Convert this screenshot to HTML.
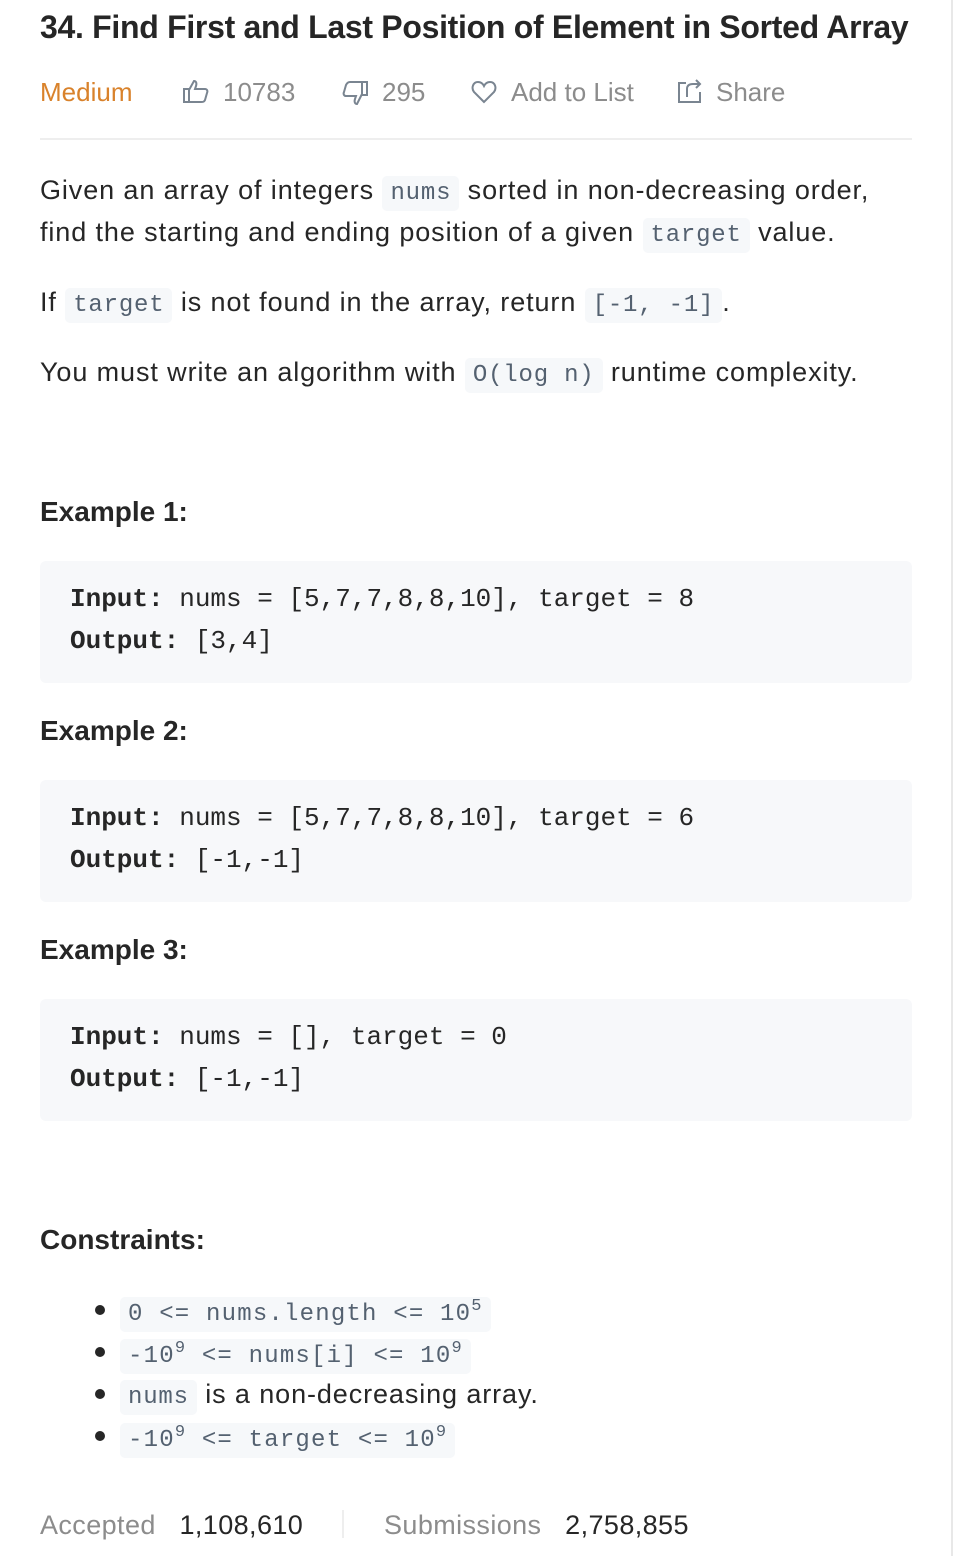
<!DOCTYPE html>
<html><head><meta charset="utf-8"><style>
body{margin:0;width:954px;height:1556px;background:#fff;position:relative;overflow:hidden;font-family:"Liberation Sans",sans-serif;color:#262626}
.a{position:absolute;white-space:nowrap}
.t{font-size:27px;line-height:32px;letter-spacing:0.9px}
code{font-family:"Liberation Mono",monospace;font-size:24px;background:#f6f8fa;color:#546170;padding:4px 8px;border-radius:5px;letter-spacing:0.8px}
.cc code{letter-spacing:1.2px}
.pre{position:absolute;left:40px;width:872px;background:#f7f8fa;border-radius:6px;font-family:"Liberation Mono",monospace;font-size:26px;line-height:42px;color:#262626;padding:17px 0 0 30px;box-sizing:border-box}
.pre b{font-weight:bold}
h{font-weight:bold;font-size:28px;letter-spacing:0}
sup{font-size:17px;vertical-align:10px;line-height:0}
.g{color:#8c8c8c}
.ic{color:#8c8c8c;font-size:26px}
.dot{position:absolute;left:95px;width:10px;height:10px;border-radius:5px;background:#262626}
</style></head><body>
<div style="position:absolute;left:951px;top:0;width:2px;height:1556px;background:#e8e8e8"></div>
<div class="a" style="left:40px;top:8px;font-size:32px;font-weight:bold;line-height:38px;letter-spacing:-0.3px">34. Find First and Last Position of Element in Sorted Array</div>
<div class="a" style="left:40px;top:76px;font-size:26px;color:#d9822b;line-height:32px">Medium</div>
<svg class="a" style="left:182px;top:79px" width="28" height="26" viewBox="0 0 28 26" fill="none" stroke="#7a8591" stroke-width="2"><rect x="2" y="10" width="5" height="13"/><path d="M7 11 L12 2 C14 2 15 4 14 7 L13 10 H23 C25 10 26 12 25 14 L23 21 C22 23 21 23 19 23 H7"/></svg>
<div class="a ic" style="left:223px;top:77px;line-height:30px">10783</div>
<svg class="a" style="left:341px;top:80px" width="28" height="26" viewBox="0 0 28 26" fill="none" stroke="#7a8591" stroke-width="2"><rect x="21" y="2" width="5" height="13"/><path d="M21 14 L16 24 C14 24 13 22 14 19 L15 16 H5 C3 16 2 14 3 12 L5 5 C6 3 7 2 9 2 H21"/></svg>
<div class="a ic" style="left:382px;top:77px;line-height:30px">295</div>
<svg class="a" style="left:471px;top:80px" width="26" height="24" viewBox="0 0 26 24" fill="none" stroke="#7a8591" stroke-width="2"><path d="M13 22 L3 12 C0 8 2 2 7 2 C10 2 12 4 13 6 C14 4 16 2 19 2 C24 2 26 8 23 12 Z"/></svg>
<div class="a ic" style="left:511px;top:77px;line-height:30px">Add to List</div>
<svg class="a" style="left:677px;top:79px" width="26" height="26" viewBox="0 0 26 26" fill="none" stroke="#7a8591" stroke-width="2"><path d="M9 4 H2 V23 H23 V13"/><path d="M10 18 V10 C10 6 13 5 16 5 H23 M19 1 L23 5 L19 9"/></svg>
<div class="a ic" style="left:716px;top:77px;line-height:30px">Share</div>
<div style="position:absolute;left:40px;top:138px;width:872px;height:2px;background:#eeeeee"></div>

<div class="a t" style="left:40px;top:174px">Given an array of integers <code>nums</code> sorted in non-decreasing order,</div>
<div class="a t" style="left:40px;top:216px">find the starting and ending position of a given <code>target</code> value.</div>
<div class="a t" style="left:40px;top:286px">If <code>target</code> is not found in the array, return <code>[-1, -1]</code>.</div>
<div class="a t" style="left:40px;top:356px">You must write an algorithm with <code>O(log n)</code> runtime complexity.</div>

<div class="a t" style="left:40px;top:496px"><h>Example 1:</h></div>
<div class="pre" style="top:561px;height:122px"><b>Input:</b> nums = [5,7,7,8,8,10], target = 8<br><b>Output:</b> [3,4]</div>
<div class="a t" style="left:40px;top:715px"><h>Example 2:</h></div>
<div class="pre" style="top:780px;height:122px"><b>Input:</b> nums = [5,7,7,8,8,10], target = 6<br><b>Output:</b> [-1,-1]</div>
<div class="a t" style="left:40px;top:934px"><h>Example 3:</h></div>
<div class="pre" style="top:999px;height:122px"><b>Input:</b> nums = [], target = 0<br><b>Output:</b> [-1,-1]</div>

<div class="a t" style="left:40px;top:1224px"><h>Constraints:</h></div>
<div class="dot" style="top:1305px"></div><div class="a t cc" style="left:120px;top:1295px"><code>0 &lt;= nums.length &lt;= 10<sup>5</sup></code></div>
<div class="dot" style="top:1347px"></div><div class="a t cc" style="left:120px;top:1337px"><code>-10<sup>9</sup> &lt;= nums[i] &lt;= 10<sup>9</sup></code></div>
<div class="dot" style="top:1389px"></div><div class="a t" style="left:120px;top:1378px"><code>nums</code> is a non-decreasing array.</div>
<div class="dot" style="top:1431px"></div><div class="a t cc" style="left:120px;top:1421px"><code>-10<sup>9</sup> &lt;= target &lt;= 10<sup>9</sup></code></div>

<div class="a" style="left:40px;top:1509px;font-size:27px;line-height:32px;letter-spacing:0.4px"><span class="g">Accepted</span>&nbsp;&nbsp;&nbsp;1,108,610</div>
<div style="position:absolute;left:342px;top:1510px;width:2px;height:28px;background:#eeeeee"></div>
<div class="a" style="left:384px;top:1509px;font-size:27px;line-height:32px;letter-spacing:0.4px"><span class="g">Submissions</span>&nbsp;&nbsp;&nbsp;2,758,855</div>
</body></html>
